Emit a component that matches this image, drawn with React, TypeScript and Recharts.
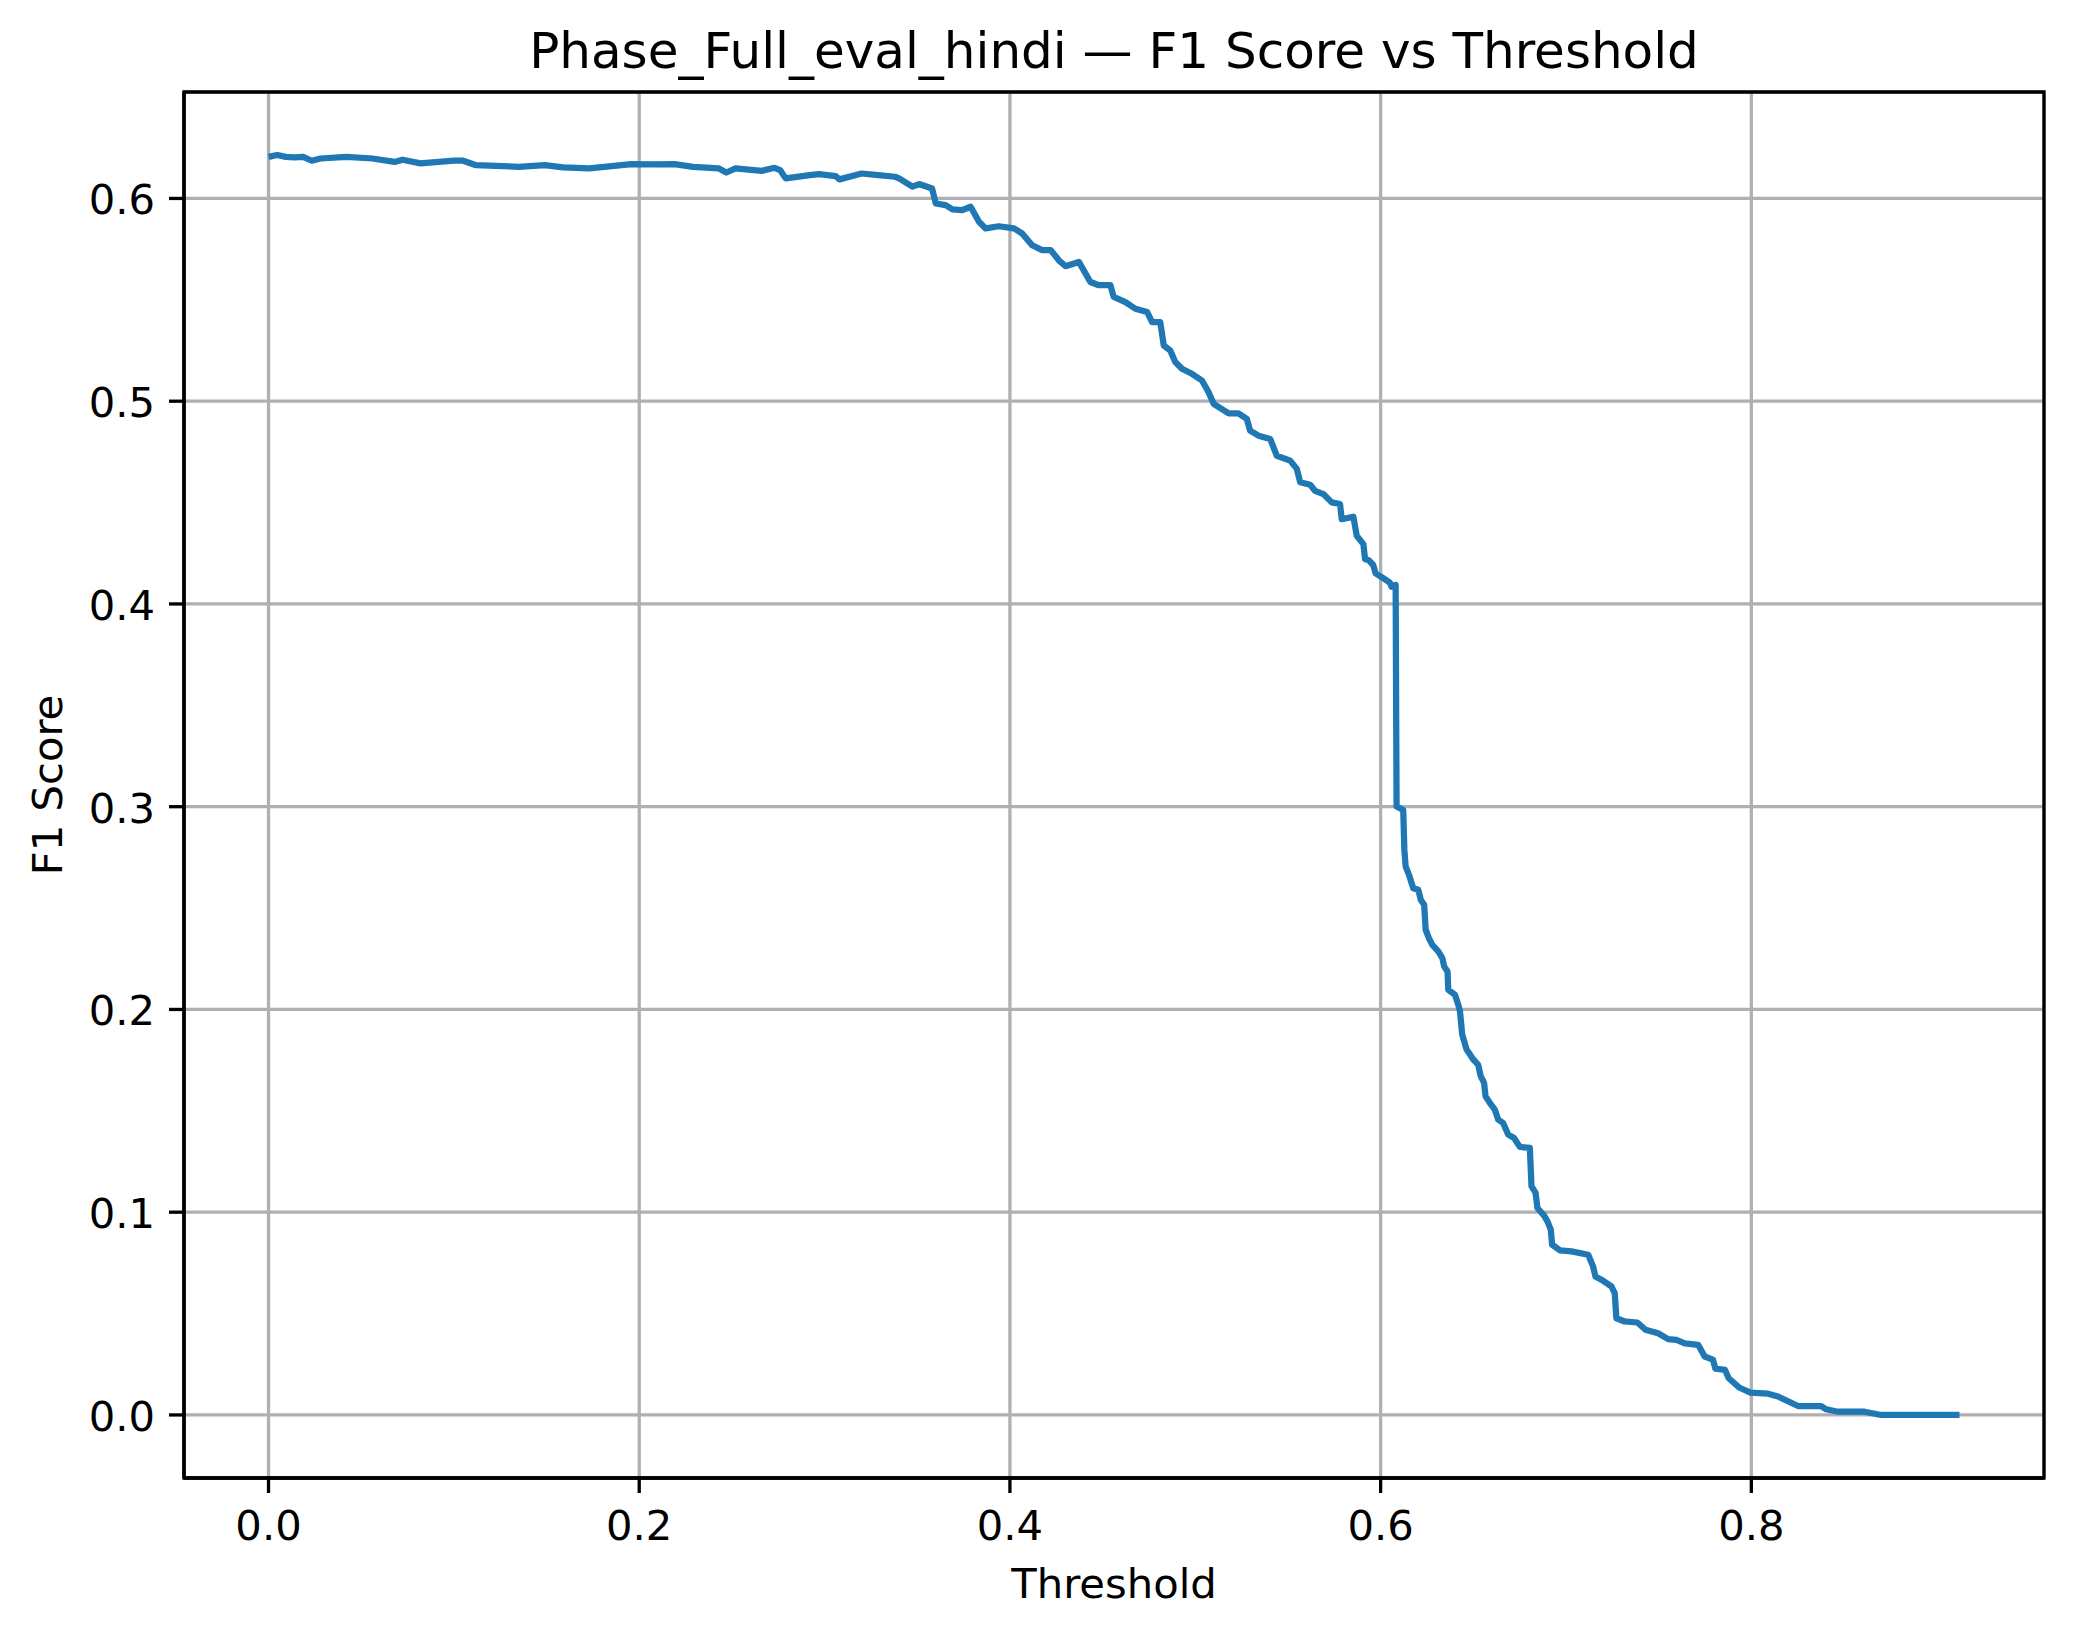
import React from "react";
import {
  LineChart,
  Line,
  XAxis,
  YAxis,
  CartesianGrid,
  ReferenceArea,
} from "recharts";

// Threshold sweep
const thresholds = [
  0.0, 0.0047, 0.0093, 0.014, 0.0187, 0.0233, 0.028, 0.042, 0.056, 0.068,
  0.0723, 0.082, 0.1, 0.105, 0.112, 0.135, 0.149, 0.159, 0.173, 0.196,
  0.2077, 0.219, 0.229, 0.243, 0.247, 0.252, 0.266, 0.273, 0.276, 0.279,
  0.292, 0.297, 0.306, 0.308, 0.32, 0.329, 0.338, 0.3402, 0.3474, 0.351,
  0.358, 0.36, 0.3653, 0.369, 0.3743, 0.3788, 0.3833, 0.3869, 0.394, 0.4022,
  0.4066, 0.412, 0.4174, 0.422, 0.4264, 0.43, 0.4372, 0.4434, 0.448, 0.4542,
  0.456, 0.4623, 0.4677, 0.474, 0.4767, 0.4811, 0.483, 0.4865, 0.4892, 0.4928,
  0.4982, 0.5036, 0.5072, 0.5099, 0.518, 0.5233, 0.5278, 0.5296, 0.5341, 0.5404,
  0.544, 0.5512, 0.5548, 0.5566, 0.562, 0.5646, 0.5691, 0.5736, 0.5781, 0.579,
  0.5853, 0.5871, 0.5907, 0.5916, 0.5934, 0.596, 0.5973, 0.6014, 0.605, 0.6059,
  0.6081, 0.6086, 0.6122, 0.6128, 0.6135, 0.6153, 0.6176, 0.6203, 0.6217, 0.6235,
  0.6243, 0.6261, 0.6279, 0.6311, 0.6333, 0.6343, 0.6361, 0.6365, 0.6401, 0.6419,
  0.6428, 0.644, 0.6464, 0.65, 0.6526, 0.654, 0.6558, 0.6566, 0.6589, 0.6616,
  0.6634, 0.6661, 0.6688, 0.672, 0.6751, 0.6805, 0.6814, 0.6836, 0.6846, 0.6882,
  0.69, 0.6918, 0.6925, 0.6967, 0.703, 0.712, 0.7146, 0.7159, 0.7191, 0.7245,
  0.7263, 0.7272, 0.7317, 0.7385, 0.7429, 0.7497, 0.7551, 0.7596, 0.7641, 0.7713,
  0.7748, 0.7793, 0.7806, 0.7858, 0.7878, 0.7937, 0.7995, 0.809, 0.8144, 0.8252,
  0.8377, 0.8404, 0.8467, 0.8611, 0.87, 0.9123,
];

const f1Scores = [
  0.6205, 0.6214, 0.6205, 0.6202, 0.6205, 0.6186, 0.6197, 0.6205, 0.6197, 0.618,
  0.6191, 0.6173, 0.6186, 0.6186, 0.6164, 0.6156, 0.6164, 0.6153, 0.6148, 0.6169,
  0.6168, 0.6169, 0.6156, 0.6148, 0.6128, 0.6148, 0.6136, 0.6151, 0.614, 0.6099,
  0.6115, 0.612, 0.611, 0.6094, 0.6123, 0.6115, 0.6107, 0.6099, 0.6058, 0.6071,
  0.6049, 0.5975, 0.5967, 0.5946, 0.5942, 0.5959, 0.5885, 0.5852, 0.5863, 0.5852,
  0.5827, 0.5769, 0.5745, 0.5745, 0.5695, 0.5666, 0.5687, 0.5588, 0.5572, 0.5572,
  0.5514, 0.5489, 0.5456, 0.544, 0.539, 0.539, 0.5275, 0.525, 0.5193, 0.516,
  0.5135, 0.5102, 0.5044, 0.4987, 0.494, 0.494, 0.4913, 0.4855, 0.483, 0.4814,
  0.4731, 0.4707, 0.4666, 0.46, 0.4588, 0.4558, 0.4542, 0.4501, 0.4493, 0.4418,
  0.443, 0.4336, 0.4295, 0.4221, 0.4217, 0.4192, 0.4151, 0.4127, 0.4105, 0.4085,
  0.4094, 0.3001, 0.2984, 0.2787, 0.2705, 0.2664, 0.2598, 0.259, 0.254, 0.2516,
  0.2393, 0.2351, 0.2318, 0.2286, 0.2253, 0.2212, 0.2187, 0.2097, 0.2072, 0.2023,
  0.1992, 0.1877, 0.1802, 0.1753, 0.1728, 0.1671, 0.1638, 0.1572, 0.1539, 0.1506,
  0.1457, 0.144, 0.1383, 0.1366, 0.1322, 0.1317, 0.1128, 0.1095, 0.1021, 0.0983,
  0.0955, 0.0914, 0.084, 0.0812, 0.0807, 0.079, 0.0733, 0.0683, 0.0667, 0.0634,
  0.0601, 0.0477, 0.0461, 0.0456, 0.042, 0.0403, 0.0374, 0.037, 0.0353, 0.0346,
  0.0288, 0.0273, 0.0228, 0.0222, 0.0181, 0.0134, 0.011, 0.0105, 0.0091, 0.0044,
  0.0044, 0.0028, 0.0016, 0.0016, 0.0, 0.0,
];

const xTicks = [0, 0.2, 0.4, 0.6, 0.8];
const yTicks = [0, 0.1, 0.2, 0.3, 0.4, 0.5, 0.6];

const TITLE = "Phase_Full_eval_hindi \u2014 F1 Score vs Threshold";
const X_LABEL = "Threshold";
const Y_LABEL = "F1 Score";

// matplotlib-style 5% margins around the data range
const X_DOMAIN: [number, number] = [-0.0456, 0.9579];
const Y_DOMAIN: [number, number] = [-0.0311, 0.6525];

const FONT = "DejaVu Sans";
const BLUE = "#1f77b4";
const SPINE = { stroke: "#000", strokeWidth: 3.3 };

const data = thresholds.map((t, i) => ({ t, f1: f1Scores[i] }));

function XTick({ x, y, payload }: any) {
  return (
    <text x={x} y={y} dy="0.71em" textAnchor="middle" fontFamily={FONT} fontSize={41.7} fill="#000">
      {Number(payload.value).toFixed(1)}
    </text>
  );
}

function YTick({ x, y, payload }: any) {
  return (
    <text x={x} y={y} dy="0.38em" textAnchor="end" fontFamily={FONT} fontSize={41.7} fill="#000">
      {Number(payload.value).toFixed(1)}
    </text>
  );
}

export default function App() {
  return (
    <div style={{ position: "absolute", left: 0, top: 0, width: 2074, height: 1638, background: "#fff" }}>
      <div
        style={{
          position: "absolute",
          left: 184,
          top: 26,
          width: 1860,
          textAlign: "center",
          fontFamily: FONT,
          fontSize: 50,
          lineHeight: "50px",
          color: "#000",
          whiteSpace: "nowrap",
        }}
      >
        {TITLE}
      </div>
      <LineChart width={2074} height={1638} data={data} margin={{ top: 92, right: 30, bottom: 0, left: 0 }}>
        <CartesianGrid stroke="#b0b0b0" strokeWidth={3.3} />
        <XAxis
          dataKey="t"
          type="number"
          domain={X_DOMAIN}
          ticks={xTicks}
          allowDataOverflow
          height={160}
          tickSize={15}
          tickMargin={17}
          tickLine={SPINE}
          axisLine={SPINE}
          tick={<XTick />}
          label={({ viewBox }: any) => (
            <text
              x={viewBox.x + viewBox.width / 2}
              y={viewBox.y + 120}
              textAnchor="middle"
              fontFamily={FONT}
              fontSize={41.7}
              fill="#000"
            >
              {X_LABEL}
            </text>
          )}
        />
        <YAxis
          type="number"
          domain={Y_DOMAIN}
          ticks={yTicks}
          allowDataOverflow
          width={184}
          tickSize={15}
          tickMargin={14}
          tickLine={SPINE}
          axisLine={SPINE}
          tick={<YTick />}
          label={({ viewBox }: any) => {
            const cy = viewBox.y + viewBox.height / 2;
            return (
              <text
                x={62}
                y={cy}
                transform={`rotate(-90, 62, ${cy})`}
                textAnchor="middle"
                fontFamily={FONT}
                fontSize={41.7}
                fill="#000"
              >
                {Y_LABEL}
              </text>
            );
          }}
        />
        {/* axes frame (top and right spines) */}
        <ReferenceArea
          x1={X_DOMAIN[0]}
          x2={X_DOMAIN[1]}
          y1={Y_DOMAIN[0]}
          y2={Y_DOMAIN[1]}
          fill="none"
          fillOpacity={0}
          stroke="#000"
          strokeWidth={3.3}
          strokeOpacity={1}
          ifOverflow="visible"
        />
        <Line
          type="linear"
          dataKey="f1"
          stroke={BLUE}
          strokeWidth={6.25}
          strokeLinejoin="round"
          dot={false}
          activeDot={false}
          isAnimationActive={false}
        />
      </LineChart>
    </div>
  );
}
